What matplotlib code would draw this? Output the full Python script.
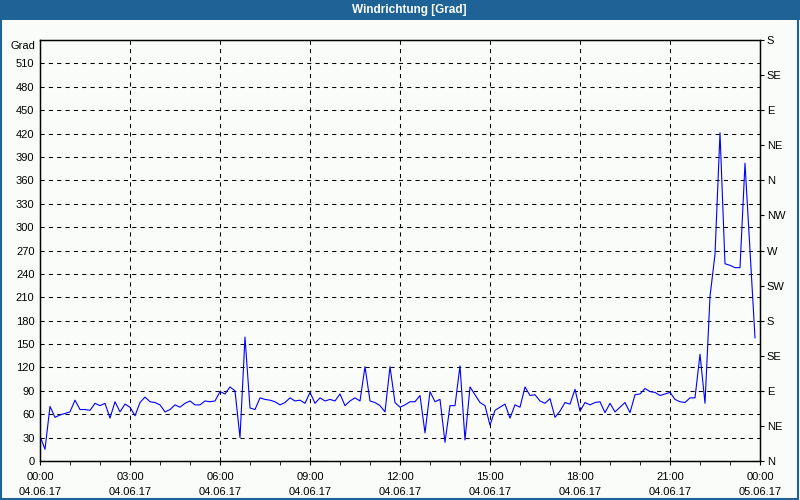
import numpy as np
import matplotlib
matplotlib.use("Agg")
import matplotlib.pyplot as plt
from matplotlib.patches import Rectangle
import matplotlib.transforms as mtransforms

# wind direction in degrees, one value every 10 minutes (04.06.17 00:00 .. 23:50)
wind = [32, 15, 70, 56, 59, 61, 63, 78, 66, 66, 65, 74, 71, 74, 55, 76,
        63, 73, 69, 58, 75, 82, 76, 75, 72, 63, 66, 72, 69, 74, 77, 72,
        72, 77, 76, 77, 89, 86, 95, 90, 30, 159, 68, 66, 81, 79, 78, 76,
        72, 75, 81, 77, 78, 74, 88, 74, 81, 77, 79, 77, 86, 71, 77, 81,
        77, 121, 77, 75, 71, 63, 121, 75, 69, 72, 76, 76, 84, 36, 89, 76,
        79, 24, 71, 71, 122, 27, 95, 85, 75, 71, 46, 65, 69, 73, 55, 72,
        69, 95, 84, 85, 77, 74, 80, 56, 64, 75, 73, 92, 64, 75, 72, 75,
        76, 62, 74, 63, 69, 75, 62, 85, 86, 93, 89, 88, 84, 86, 88, 79,
        76, 75, 81, 81, 137, 74, 211, 265, 421, 253, 251, 248, 248, 382,
        271, 158]

left_ticks = list(range(0, 511, 30))
right_ticks = list(range(0, 541, 45))
right_labels = ['N', 'NE', 'E', 'SE', 'S', 'SW', 'W', 'NW',
                'N', 'NE', 'E', 'SE', 'S']
hour_ticks = list(range(0, 25, 3))
hour_labels = ['00:00\n04.06.17', '03:00\n04.06.17', '06:00\n04.06.17',
               '09:00\n04.06.17', '12:00\n04.06.17', '15:00\n04.06.17',
               '18:00\n04.06.17', '21:00\n04.06.17', '00:00\n05.06.17']

bg = '#fafcfa'
blue_bar = '#1e6296'

plt.rcParams['font.family'] = ['Liberation Sans', 'DejaVu Sans']
plt.rcParams['font.size'] = 8

fig = plt.figure(figsize=(8, 5), dpi=100, facecolor=bg)

# title bar and frame
fig.patches.append(Rectangle((0, 0.96), 1, 0.04, transform=fig.transFigure,
                             facecolor=blue_bar, edgecolor='none'))
fig.patches.append(Rectangle((0.001, 0.002), 0.996, 0.996,
                             transform=fig.transFigure, fill=False,
                             edgecolor=blue_bar, linewidth=1.5))
fig.text(0.511, 0.98, 'Windrichtung [Grad]', color='white', fontweight='bold',
         ha='center', va='center', fontsize=8.5)

ax = fig.add_axes([0.05, 0.078, 0.9, 0.842], facecolor=bg)
hours = np.arange(len(wind)) / 6.0
ax.plot(hours, wind, color='#0000ff', linewidth=0.8)

ax.set_xlim(0, 24)
ax.set_ylim(0, 540)
ax.set_yticks(left_ticks)
ax.set_xticks(hour_ticks)
ax.set_xticklabels(hour_labels, linespacing=1.6)
ax.set_xticks(range(0, 25), minor=True)
ax.tick_params(axis='x', which='both', direction='out', length=3, pad=5)
ax.tick_params(axis='y', length=0, pad=4)

for s in ax.spines.values():
    s.set_linewidth(1.0)
    s.set_color('black')

ax.grid(True, which='major', color='black', linestyle=(0, (4, 4)),
        linewidth=0.75)
ax.set_axisbelow(True)

ax2 = ax.twinx()
ax2.set_ylim(0, 540)
ax2.set_yticks(right_ticks)
ax2.set_yticklabels(right_labels)
ax2.tick_params(axis='y', direction='out', length=3, pad=2)

trans = mtransforms.blended_transform_factory(ax.transAxes, ax.transData)
ax.text(-0.006, 532, 'Grad', transform=trans, ha='right', va='center')

fig.savefig('out.png', dpi=100, facecolor=bg)
